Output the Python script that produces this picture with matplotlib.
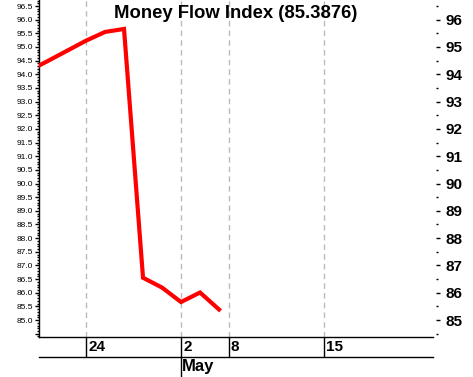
import matplotlib
matplotlib.use("Agg")
import matplotlib.pyplot as plt
import numpy as np
from matplotlib.ticker import FixedLocator, MultipleLocator

plt.rcParams["font.family"] = ["Liberation Sans", "DejaVu Sans"]

# trading-day index, 0 = "24"
days = [-3, -2, -1, 0, 1, 2, 3, 4, 5, 6, 7]
mfi = [94.13, 94.49, 94.86, 95.23, 95.55, 95.66, 86.55, 86.19, 85.66, 86.01, 85.3876]

tick_pos = [0, 5, 7.5, 12.5]
tick_labels = ["24", "2", "8", "15"]
month_pos = 5
month_label = "May"

fig = plt.figure(figsize=(4.73, 3.77), dpi=100)
ax = fig.add_axes([39 / 473, 40 / 377, 394 / 473, 337 / 377])

ax.plot(days, mfi, color="#ff0000", lw=3, solid_joinstyle="miter", zorder=3)

ax.set_xlim(-2.474, 18.26)
ax.set_ylim(84.38, 96.72)

for s in ["top", "right"]:
    ax.spines[s].set_visible(False)
ax.spines["left"].set_linewidth(1)
ax.spines["bottom"].set_linewidth(1)

# left axis: labelled every 0.5, minor every 0.1
ax.yaxis.set_major_locator(FixedLocator(np.arange(84.5, 96.51, 0.5)))
ax.yaxis.set_minor_locator(MultipleLocator(0.1))
ax.set_yticklabels(["" if v < 84.9 else f"{v:.1f}" for v in np.arange(84.5, 96.51, 0.5)])
ax.tick_params(axis="y", which="major", length=3, width=1, labelsize=6, pad=1)
ax.tick_params(axis="y", which="minor", length=1.5, width=1)

# x ticks: long marks down to the month row
ax.set_xticks(tick_pos)
ax.set_xticklabels([])
ax.tick_params(axis="x", which="major", length=14.4, width=1, direction="out")
for p, lab in zip(tick_pos, tick_labels):
    ax.axvline(p, color="#bbbbbb", lw=1, ls=(0, (4, 3)), zorder=1)
    ax.annotate(lab, xy=(p, 0), xycoords=("data", "axes fraction"),
                xytext=(2, -3), textcoords="offset pixels",
                ha="left", va="top", fontsize=11, fontweight="bold")

# month row
ax.plot([0, 1], [-20 / 337, -20 / 337], color="black", lw=1,
        transform=ax.transAxes, clip_on=False)
ax.plot([month_pos, month_pos], [-20 / 337, -40 / 337], color="black", lw=1,
        transform=ax.get_xaxis_transform(), clip_on=False)
ax.annotate(month_label, xy=(month_pos, -20 / 337), xycoords=("data", "axes fraction"),
            xytext=(1, -2), textcoords="offset pixels",
            ha="left", va="top", fontsize=12, fontweight="bold")

# right axis
ax2 = ax.twinx()
ax2.set_ylim(ax.get_ylim())
for s in ["top", "left", "bottom", "right"]:
    ax2.spines[s].set_visible(False)
ax2.spines["right"].set_position(("outward", 2))
ax2.yaxis.set_major_locator(FixedLocator(np.arange(85, 96.1, 1)))
ax2.yaxis.set_minor_locator(FixedLocator(np.arange(84.5, 96.6, 1)))
ax2.set_yticklabels([f"{v:.0f}" for v in np.arange(85, 96.1, 1)])
ax2.tick_params(axis="y", which="major", length=3, width=1, labelsize=11, pad=4)
ax2.tick_params(axis="y", which="minor", length=1.5, width=1)
for t in ax2.get_yticklabels():
    t.set_fontweight("bold")

ax.text(0.5, 1 - 5 / 337, "Money Flow Index (85.3876)", transform=ax.transAxes,
        ha="center", va="top", fontsize=13.3, fontweight="bold")

fig.savefig("out.png", dpi=100)
